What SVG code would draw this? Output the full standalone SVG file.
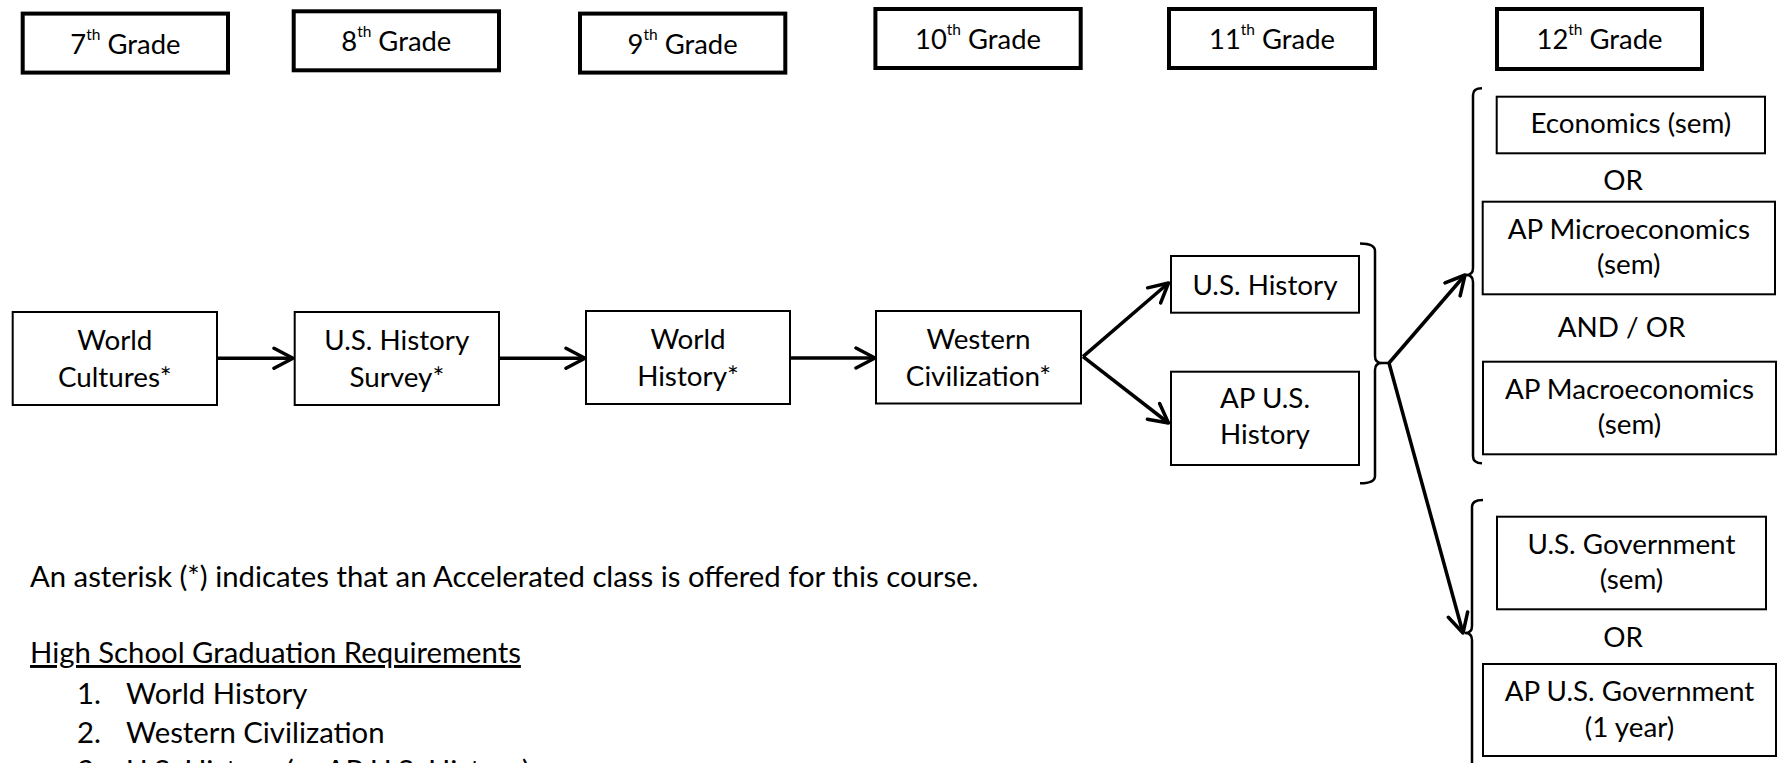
<svg xmlns="http://www.w3.org/2000/svg" width="1778" height="763" viewBox="0 0 1778 763">
<style>
text{font-family:Lato,"Open Sans","Liberation Sans",sans-serif;font-size:27.8px;fill:#000}
.c{text-anchor:middle}
.gt{font-size:27.4px}
.body{font-size:29.3px}
.grade{fill:#fff;stroke:#000;stroke-width:4}
.box{fill:#fff;stroke:#000;stroke-width:2}
.sup{font-size:15.5px}
.conn{stroke:#000;stroke-width:3.5;fill:none}
.br{stroke:#000;stroke-width:2.5;fill:none}
</style>
<defs>
<marker id="arr" viewBox="0 0 24 24" refX="21" refY="12" markerWidth="24" markerHeight="24" markerUnits="userSpaceOnUse" orient="auto">
<path d="M2,2 L21,12 L2,22" fill="none" stroke="#000" stroke-width="3.5" stroke-linecap="round" stroke-linejoin="round"/>
</marker>
</defs>
<rect width="1778" height="763" fill="#fff"/>

<g id="g7"><rect class="grade" x="22.7" y="13.6" width="205.3" height="59"/><text class="c gt" x="125.4" y="53.5">7<tspan class="sup" dy="-14">th</tspan><tspan dy="14"> Grade</tspan></text></g>
<g id="g8"><rect class="grade" x="293.7" y="11.3" width="205.3" height="59"/><text class="c gt" x="396.3" y="51">8<tspan class="sup" dy="-14">th</tspan><tspan dy="14"> Grade</tspan></text></g>
<g id="g9"><rect class="grade" x="580" y="13.6" width="205.3" height="59"/><text class="c gt" x="682.6" y="53.5">9<tspan class="sup" dy="-14">th</tspan><tspan dy="14"> Grade</tspan></text></g>
<g id="g10"><rect class="grade" x="875.4" y="9" width="205.3" height="59"/><text class="c gt" x="978" y="49">10<tspan class="sup" dy="-14">th</tspan><tspan dy="14"> Grade</tspan></text></g>
<g id="g11"><rect class="grade" x="1169" y="9" width="206" height="59"/><text class="c gt" x="1272" y="49">11<tspan class="sup" dy="-14">th</tspan><tspan dy="14"> Grade</tspan></text></g>
<g id="g12"><rect class="grade" x="1497" y="9" width="205" height="60"/><text class="c gt" x="1599.5" y="49.3">12<tspan class="sup" dy="-14">th</tspan><tspan dy="14"> Grade</tspan></text></g>

<g id="worldCultures"><rect class="box" x="12.7" y="312" width="204.3" height="93"/><text class="c" x="114.8" y="350">World</text><text class="c" x="114.8" y="386.5">Cultures*</text></g>
<g id="usHistorySurvey"><rect class="box" x="294.7" y="312" width="204.3" height="93"/><text class="c" x="396.8" y="350">U.S. History</text><text class="c" x="396.8" y="386.5">Survey*</text></g>
<g id="worldHistory"><rect class="box" x="586" y="311" width="204" height="93"/><text class="c" x="688" y="349">World</text><text class="c" x="688" y="385.5">History*</text></g>
<g id="westernCiv"><rect class="box" x="876" y="311" width="205" height="92.5"/><text class="c" x="978.5" y="349.3">Western</text><text class="c" x="978.5" y="385.5">Civilization*</text></g>
<g id="usHistory"><rect class="box" x="1171" y="256" width="188" height="56.7"/><text class="c" x="1265" y="295">U.S. History</text></g>
<g id="apUsHistory"><rect class="box" x="1171" y="371.7" width="188" height="93.3"/><text class="c" x="1265" y="408">AP U.S.</text><text class="c" x="1265" y="443.5">History</text></g>

<g id="economics"><rect class="box" x="1496.7" y="96.7" width="268.3" height="56.6"/><text class="c" x="1630.8" y="133.3">Economics (sem)</text></g>
<g id="or1"><text class="c" x="1623" y="190">OR</text></g>
<g id="apMicro"><rect class="box" x="1482.7" y="201.7" width="292.3" height="92.6"/><text class="c" x="1628.8" y="239.3">AP Microeconomics</text><text class="c" x="1628.8" y="274">(sem)</text></g>
<g id="andOr"><text class="c" x="1621.5" y="337.3">AND / OR</text></g>
<g id="apMacro"><rect class="box" x="1483" y="361.7" width="293" height="92.6"/><text class="c" x="1629.5" y="399.3">AP Macroeconomics</text><text class="c" x="1629.5" y="434">(sem)</text></g>

<g id="usGov"><rect class="box" x="1497" y="516.7" width="269" height="92.6"/><text class="c" x="1631.5" y="554">U.S. Government</text><text class="c" x="1631.5" y="589">(sem)</text></g>
<g id="or2"><text class="c" x="1623" y="647.3">OR</text></g>
<g id="apUsGov"><rect class="box" x="1483" y="664" width="293" height="92"/><text class="c" x="1629.5" y="700.7">AP U.S. Government</text><text class="c" x="1629.5" y="736.5">(1 year)</text></g>

<g id="brackets">
<path class="br" d="M1360,243.5 Q1375,243.5 1375,251 L1375,356 Q1375,363 1382,363 L1389,363 M1382,363 Q1375,363 1375,370 L1375,476 Q1375,483.3 1360,483.3"/>
<path class="br" d="M1482,88.3 Q1473,88.3 1473,95 L1473,268 Q1473,275 1466,275 Q1473,275 1473,282 L1473,456 Q1473,463.3 1482,463.3"/>
<path class="br" d="M1483,500 Q1472,500 1472,507 L1472,626 Q1472,633 1465,633 Q1472,633 1472,640 L1472,770"/>
</g>

<g id="connectors">
<line class="conn" x1="217" y1="358.3" x2="293" y2="358.3" marker-end="url(#arr)"/>
<line class="conn" x1="499" y1="358.3" x2="585" y2="358.3" marker-end="url(#arr)"/>
<line class="conn" x1="790" y1="358" x2="875" y2="358" marker-end="url(#arr)"/>
<line class="conn" x1="1083" y1="356.7" x2="1168.5" y2="283" marker-end="url(#arr)"/>
<line class="conn" x1="1083" y1="356.7" x2="1168.5" y2="423" marker-end="url(#arr)"/>
<line class="conn" x1="1389" y1="363" x2="1465" y2="275" marker-end="url(#arr)"/>
<line class="conn" x1="1389" y1="363" x2="1463" y2="633" marker-end="url(#arr)"/>
</g>

<g id="notes" class="body">
<text class="body" x="30" y="586.7">An asterisk (*) indicates that an Accelerated class is offered for this course.</text>
<text class="body" x="30" y="663" text-decoration="underline">High School Graduation Requirements</text>
<text class="body" x="77" y="704">1.</text><text class="body" x="126" y="704">World History</text>
<text class="body" x="77" y="742.5">2.</text><text class="body" x="126" y="742.5">Western Civilization</text>
<text class="body" x="77" y="781">3.</text><text class="body" x="126" y="781">U.S. History (or AP U.S. History)</text>
</g>
</svg>
